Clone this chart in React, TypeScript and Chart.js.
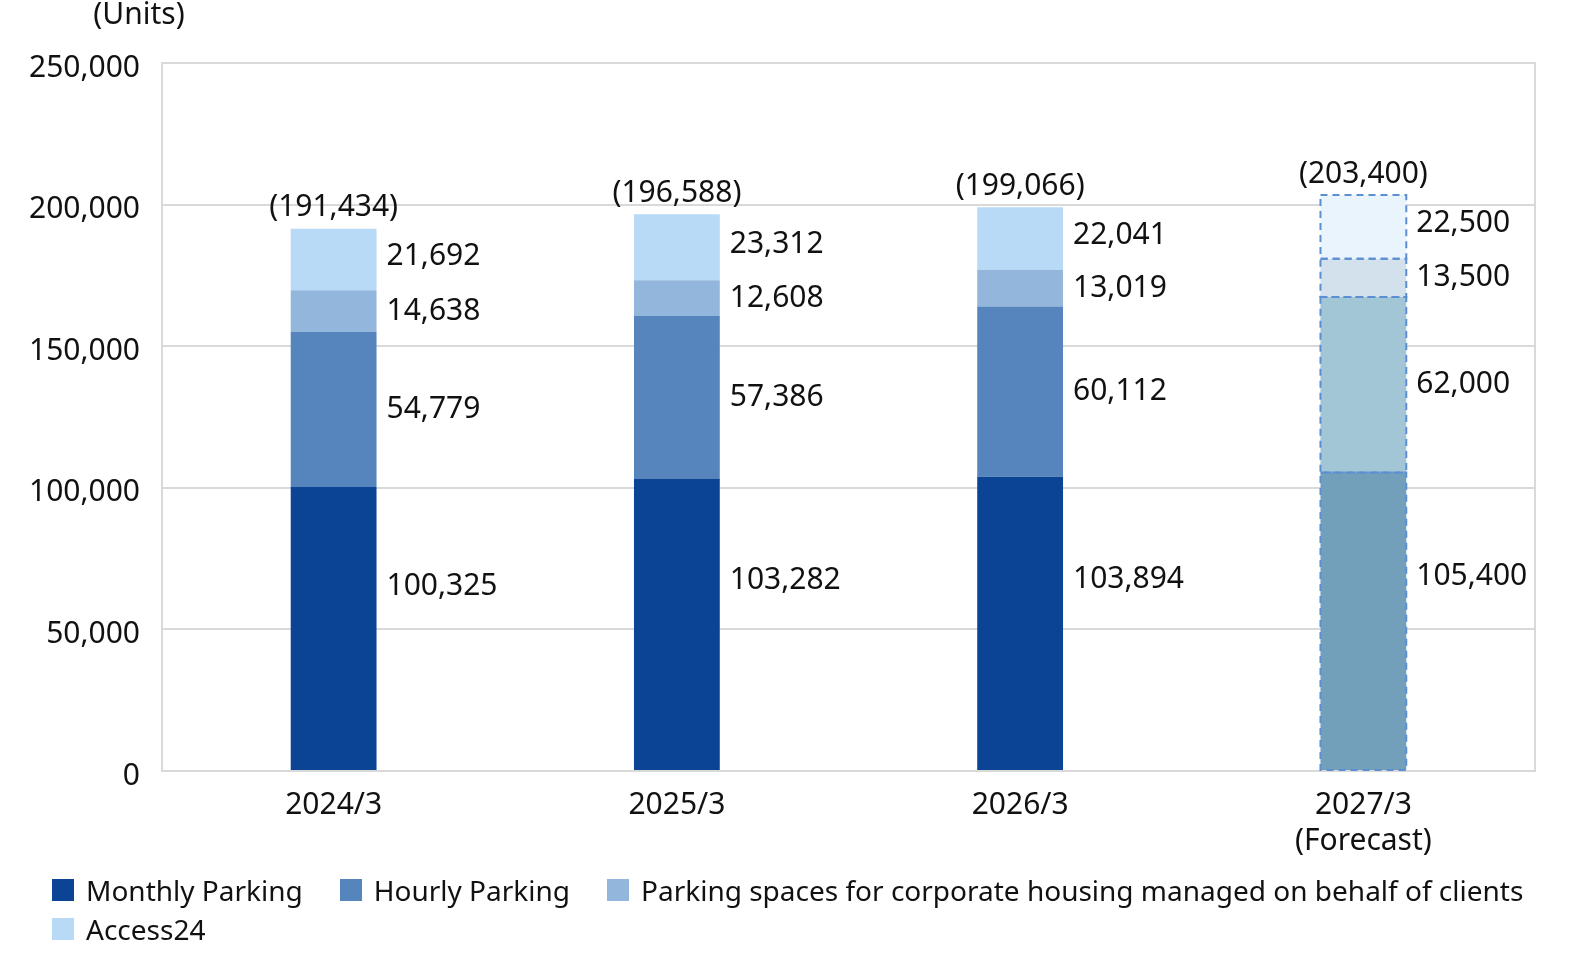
import { useEffect, useRef } from "react"
import { Chart, registerables } from "chart.js"

Chart.register(...registerables)

const categories = [["2024/3"], ["2025/3"], ["2026/3"], ["2027/3", "(Forecast)"]]
const seriesNames = [
  "Monthly Parking",
  "Hourly Parking",
  "Parking spaces for corporate housing managed on behalf of clients",
  "Access24",
]
const monthly = [100325, 103282, 103894, 105400]
const hourly = [54779, 57386, 60112, 62000]
const corporate = [14638, 12608, 13019, 13500]
const access24 = [21692, 23312, 22041, 22500]
const totals = [191434, 196588, 199066, 203400]
const yMax = 250000
const yStep = 50000

const FORECAST = 3
const actualColors = ["#0b4495", "#5684bd", "#93b6dc", "#b8daf7"]
const forecastColors = ["#72a0bb", "#a3c6d6", "#d3e1ec", "#e9f4fd"]
const labelPos = [0.35, 0.5, 0.5, 0.45]
const FONT = '"Noto Sans", sans-serif'
const fmt = (v: number) => v.toLocaleString("en-US")

const annotate = {
  id: "annotate",
  beforeDatasetsDraw(chart: any) {
    const { ctx, chartArea: a } = chart
    ctx.save()
    ctx.strokeStyle = "#d9d9d9"
    ctx.lineWidth = 2
    ctx.strokeRect(a.left, a.top, a.right - a.left, a.bottom - a.top)
    ctx.restore()
  },
  afterDatasetsDraw(chart: any) {
    const { ctx, chartArea: a } = chart
    ctx.save()
    ctx.font = `30px ${FONT}`
    ctx.fillStyle = "#111"
    ctx.textBaseline = "middle"
    chart.data.datasets.forEach((ds: any, di: number) => {
      const meta = chart.getDatasetMeta(di)
      meta.data.forEach((el: any, i: number) => {
        const top = Math.min(el.y, el.base)
        const bottom = Math.max(el.y, el.base)
        const left = el.x - el.width / 2
        if (i === FORECAST) {
          ctx.save()
          ctx.strokeStyle = "#5b8fd2"
          ctx.lineWidth = 2
          ctx.setLineDash([7, 5])
          ctx.strokeRect(left, top, el.width, bottom - top)
          ctx.restore()
        }
        ctx.textAlign = "left"
        ctx.fillText(fmt(ds.data[i]), el.x + el.width / 2 + 10, top + (bottom - top) * labelPos[di])
      })
    })
    const last = chart.getDatasetMeta(chart.data.datasets.length - 1)
    ctx.textAlign = "center"
    last.data.forEach((el: any, i: number) => {
      ctx.fillText(`(${fmt(totals[i])})`, el.x, el.y - 21)
    })
    ctx.fillText("(Units)", a.left - 23, 15)
    ctx.restore()
  },
}

export default function App() {
  const chartRef = useRef<HTMLCanvasElement>(null)
  const chartInstance = useRef<Chart | null>(null)

  useEffect(() => {
    if (!chartRef.current) return
    if (chartInstance.current) chartInstance.current.destroy()
    const ctx = chartRef.current.getContext("2d")
    if (!ctx) return

    const series = [monthly, hourly, corporate, access24]

    chartInstance.current = new Chart(ctx, {
      type: "bar",
      data: {
        labels: categories,
        datasets: series.map((data, di) => ({
          label: seriesNames[di],
          data,
          backgroundColor: data.map((_, i) => (i === FORECAST ? forecastColors[di] : actualColors[di])),
          borderWidth: 0,
          barPercentage: 0.25,
          categoryPercentage: 1,
        })),
      },
      options: {
        responsive: false,
        animation: false,
        layout: { padding: { top: 63, right: 51, left: 0, bottom: 0 } },
        plugins: {
          legend: { display: false },
          tooltip: { enabled: false },
        },
        scales: {
          x: {
            stacked: true,
            grid: { display: false, drawTicks: false },
            border: { display: false },
            ticks: { color: "#111", font: { family: FONT, size: 30 }, padding: 16 },
            afterFit: (s: any) => {
              s.height = 186
            },
          },
          y: {
            stacked: true,
            min: 0,
            max: yMax,
            grid: { color: "#d9d9d9", lineWidth: 2, drawTicks: false },
            border: { display: false },
            ticks: {
              stepSize: yStep,
              color: "#111",
              font: { family: FONT, size: 30 },
              padding: 22,
              labelOffset: 5,
              callback: (v: any) => fmt(Number(v)),
            },
            afterFit: (s: any) => {
              s.width = 162
            },
          },
        },
      },
      plugins: [annotate],
    })

    return () => {
      if (chartInstance.current) chartInstance.current.destroy()
    }
  }, [])

  return (
    <div style={{ position: "fixed", left: 0, top: 0, width: 1586, height: 957, background: "#fff", overflow: "hidden" }}>
      <style>{"html,body{margin:0;overflow:hidden}"}</style>
      <canvas ref={chartRef} width={1586} height={957} style={{ display: "block" }}></canvas>
      <div
        style={{
          position: "absolute",
          left: 52,
          top: 870,
          width: 1534,
          display: "flex",
          flexWrap: "wrap",
          columnGap: 37,
          fontFamily: FONT,
          fontSize: 28,
          color: "#111",
        }}
      >
        {seriesNames.map((name, i) => (
          <div key={name} style={{ display: "flex", alignItems: "center", height: 39, whiteSpace: "nowrap" }}>
            <span style={{ width: 22, height: 22, background: actualColors[i], marginRight: 12, display: "inline-block" }}></span>
            <span>{name}</span>
          </div>
        ))}
      </div>
    </div>
  )
}
